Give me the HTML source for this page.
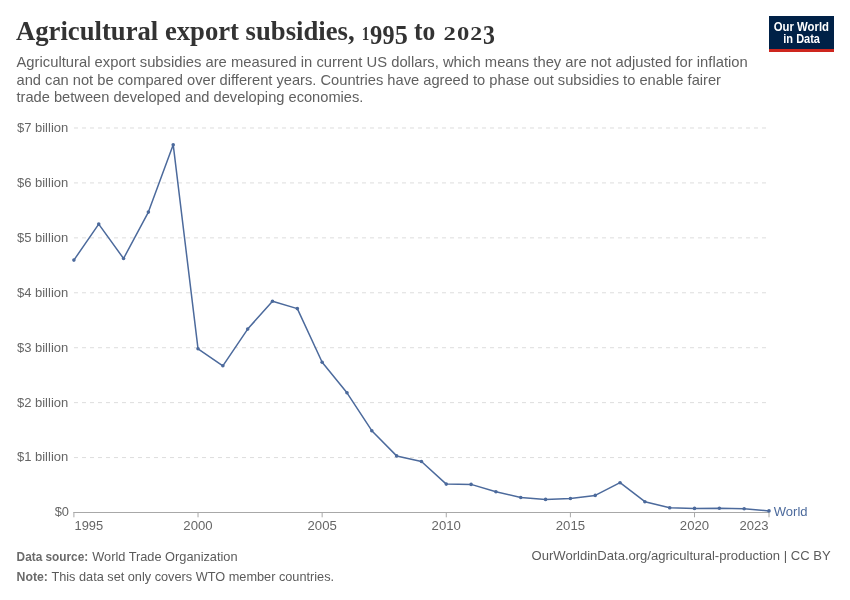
<!DOCTYPE html>
<html><head><meta charset="utf-8"><style>
html,body{margin:0;padding:0;background:#fff;width:850px;height:600px;overflow:hidden}
svg{position:absolute;left:0;top:0;will-change:transform}
text{font-family:"Liberation Sans",sans-serif}
.serif text{font-family:"Liberation Serif",serif}
</style></head><body>
<svg width="850" height="600" viewBox="0 0 850 600">
<g class="serif" font-weight="bold" fill="#333">
<text x="16" y="39.6" transform="translate(0,39.6) scale(1,1.07) translate(0,-39.6)" font-size="26" textLength="338.6" lengthAdjust="spacingAndGlyphs">Agricultural export subsidies,</text>
<text x="413.9" y="39.6" transform="translate(0,39.6) scale(1,1.07) translate(0,-39.6)" font-size="26" textLength="21.3" lengthAdjust="spacingAndGlyphs">to</text>
<text x="361.8" y="39.7" font-size="19.8" textLength="7.7" lengthAdjust="spacingAndGlyphs">1</text><text x="370" y="44.2" transform="translate(0,44.2) scale(1,1.25) translate(0,-44.2)" font-size="22" textLength="12.3" lengthAdjust="spacingAndGlyphs">9</text><text x="382.5" y="44.2" transform="translate(0,44.2) scale(1,1.25) translate(0,-44.2)" font-size="22" textLength="12.1" lengthAdjust="spacingAndGlyphs">9</text><text x="394.8" y="44.2" transform="translate(0,44.2) scale(1,1.25) translate(0,-44.2)" font-size="22" textLength="13.1" lengthAdjust="spacingAndGlyphs">5</text><text x="443.4" y="39.7" font-size="19.8" textLength="12.3" lengthAdjust="spacingAndGlyphs">2</text><text x="457" y="39.7" font-size="19.8" textLength="12.3" lengthAdjust="spacingAndGlyphs">0</text><text x="470.2" y="39.7" font-size="19.8" textLength="11.9" lengthAdjust="spacingAndGlyphs">2</text><text x="483" y="44.2" transform="translate(0,44.2) scale(1,1.25) translate(0,-44.2)" font-size="22" textLength="11.9" lengthAdjust="spacingAndGlyphs">3</text>
</g>
<g font-size="14.2" fill="#606060">
<text x="16.5" y="67" textLength="731.3" lengthAdjust="spacingAndGlyphs">Agricultural export subsidies are measured in current US dollars, which means they are not adjusted for inflation</text>
<text x="16.5" y="84.7" textLength="704.5" lengthAdjust="spacingAndGlyphs">and can not be compared over different years. Countries have agreed to phase out subsidies to enable fairer</text>
<text x="16.5" y="102.3" textLength="346.9" lengthAdjust="spacingAndGlyphs">trade between developed and developing economies.</text>
</g>
<rect x="769" y="16" width="65" height="33" fill="#002147"/>
<rect x="769" y="49" width="65" height="3" fill="#ce261e"/>
<g font-size="12.4" font-weight="bold" fill="#fff">
<text x="773.8" y="30.9" textLength="55.2" lengthAdjust="spacingAndGlyphs">Our World</text>
<text x="783.3" y="42.8" textLength="36.7" lengthAdjust="spacingAndGlyphs">in Data</text>
</g>
<g stroke="#ddd" stroke-width="1" stroke-dasharray="4,4"><line x1="74" y1="457.57" x2="768" y2="457.57"/><line x1="74" y1="402.64" x2="768" y2="402.64"/><line x1="74" y1="347.71" x2="768" y2="347.71"/><line x1="74" y1="292.78" x2="768" y2="292.78"/><line x1="74" y1="237.85" x2="768" y2="237.85"/><line x1="74" y1="182.92" x2="768" y2="182.92"/><line x1="74" y1="127.99" x2="768" y2="127.99"/></g>
<g font-size="13.3" fill="#666"><text x="68.3" y="461.47" text-anchor="end" textLength="51.4" lengthAdjust="spacingAndGlyphs">$1 billion</text><text x="68.3" y="406.54" text-anchor="end" textLength="51.4" lengthAdjust="spacingAndGlyphs">$2 billion</text><text x="68.3" y="351.61" text-anchor="end" textLength="51.4" lengthAdjust="spacingAndGlyphs">$3 billion</text><text x="68.3" y="296.68" text-anchor="end" textLength="51.4" lengthAdjust="spacingAndGlyphs">$4 billion</text><text x="68.3" y="241.75" text-anchor="end" textLength="51.4" lengthAdjust="spacingAndGlyphs">$5 billion</text><text x="68.3" y="186.82" text-anchor="end" textLength="51.4" lengthAdjust="spacingAndGlyphs">$6 billion</text><text x="68.3" y="131.89" text-anchor="end" textLength="51.4" lengthAdjust="spacingAndGlyphs">$7 billion</text>
<text x="69" y="516.4" text-anchor="end" textLength="14.3" lengthAdjust="spacingAndGlyphs">$0</text>
<text x="74.5" y="530" font-size="13" textLength="28.7" lengthAdjust="spacingAndGlyphs">1995</text>
<text x="198.03" y="530" text-anchor="middle" font-size="13" textLength="29.3" lengthAdjust="spacingAndGlyphs">2000</text><text x="322.15" y="530" text-anchor="middle" font-size="13" textLength="29.3" lengthAdjust="spacingAndGlyphs">2005</text><text x="446.27" y="530" text-anchor="middle" font-size="13" textLength="29.3" lengthAdjust="spacingAndGlyphs">2010</text><text x="570.4" y="530" text-anchor="middle" font-size="13" textLength="29.3" lengthAdjust="spacingAndGlyphs">2015</text><text x="694.52" y="530" text-anchor="middle" font-size="13" textLength="29.3" lengthAdjust="spacingAndGlyphs">2020</text>
<text x="739.4" y="530" font-size="13" textLength="29.1" lengthAdjust="spacingAndGlyphs">2023</text>
</g>
<line x1="73.5" y1="512.5" x2="769" y2="512.5" stroke="#a8a8a8" stroke-width="1"/>
<g stroke="#a8a8a8" stroke-width="1"><line x1="73.9" y1="512" x2="73.9" y2="517.3"/><line x1="198.03" y1="512" x2="198.03" y2="517.3"/><line x1="322.15" y1="512" x2="322.15" y2="517.3"/><line x1="446.27" y1="512" x2="446.27" y2="517.3"/><line x1="570.4" y1="512" x2="570.4" y2="517.3"/><line x1="694.52" y1="512" x2="694.52" y2="517.3"/><line x1="769.0" y1="512" x2="769.0" y2="517.3"/></g>
<path d="M73.9,260.1 L98.73,224.1 L123.55,258.5 L148.38,212.1 L173.2,144.7 L198.03,348.8 L222.85,365.8 L247.68,329.1 L272.5,301.2 L297.32,308.6 L322.15,362.2 L346.98,392.8 L371.8,430.7 L396.62,455.9 L421.45,461.5 L446.27,484.1 L471.1,484.4 L495.92,491.8 L520.75,497.5 L545.58,499.4 L570.4,498.5 L595.22,495.4 L620.05,482.7 L644.88,501.7 L669.7,507.7 L694.52,508.4 L719.35,508.2 L744.17,508.8 L769.0,510.9" fill="none" stroke="#4c6a9c" stroke-width="1.5" stroke-linejoin="round"/>
<g fill="#4c6a9c"><circle cx="73.9" cy="260.1" r="1.8"/><circle cx="98.73" cy="224.1" r="1.8"/><circle cx="123.55" cy="258.5" r="1.8"/><circle cx="148.38" cy="212.1" r="1.8"/><circle cx="173.2" cy="144.7" r="1.8"/><circle cx="198.03" cy="348.8" r="1.8"/><circle cx="222.85" cy="365.8" r="1.8"/><circle cx="247.68" cy="329.1" r="1.8"/><circle cx="272.5" cy="301.2" r="1.8"/><circle cx="297.32" cy="308.6" r="1.8"/><circle cx="322.15" cy="362.2" r="1.8"/><circle cx="346.98" cy="392.8" r="1.8"/><circle cx="371.8" cy="430.7" r="1.8"/><circle cx="396.62" cy="455.9" r="1.8"/><circle cx="421.45" cy="461.5" r="1.8"/><circle cx="446.27" cy="484.1" r="1.8"/><circle cx="471.1" cy="484.4" r="1.8"/><circle cx="495.92" cy="491.8" r="1.8"/><circle cx="520.75" cy="497.5" r="1.8"/><circle cx="545.58" cy="499.4" r="1.8"/><circle cx="570.4" cy="498.5" r="1.8"/><circle cx="595.22" cy="495.4" r="1.8"/><circle cx="620.05" cy="482.7" r="1.8"/><circle cx="644.88" cy="501.7" r="1.8"/><circle cx="669.7" cy="507.7" r="1.8"/><circle cx="694.52" cy="508.4" r="1.8"/><circle cx="719.35" cy="508.2" r="1.8"/><circle cx="744.17" cy="508.8" r="1.8"/><circle cx="769.0" cy="510.9" r="1.8"/></g>
<text x="773.8" y="515.7" font-size="13.5" fill="#4c6a9c" textLength="33.8" lengthAdjust="spacingAndGlyphs">World</text>
<g font-size="13" fill="#5b5b5b">
<text x="16.6" y="560.9" font-weight="bold" fill="#6a6a6a" textLength="71.6" lengthAdjust="spacingAndGlyphs">Data source:</text>
<text x="92.2" y="560.9" textLength="145.4" lengthAdjust="spacingAndGlyphs">World Trade Organization</text>
<text x="16.6" y="580.6" font-weight="bold" fill="#6a6a6a" textLength="31.3" lengthAdjust="spacingAndGlyphs">Note:</text>
<text x="51.4" y="580.6" textLength="282.7" lengthAdjust="spacingAndGlyphs">This data set only covers WTO member countries.</text>
<text x="531.6" y="560.3" textLength="299" lengthAdjust="spacingAndGlyphs">OurWorldinData.org/agricultural-production | CC BY</text>
</g>
</svg>
</body></html>
